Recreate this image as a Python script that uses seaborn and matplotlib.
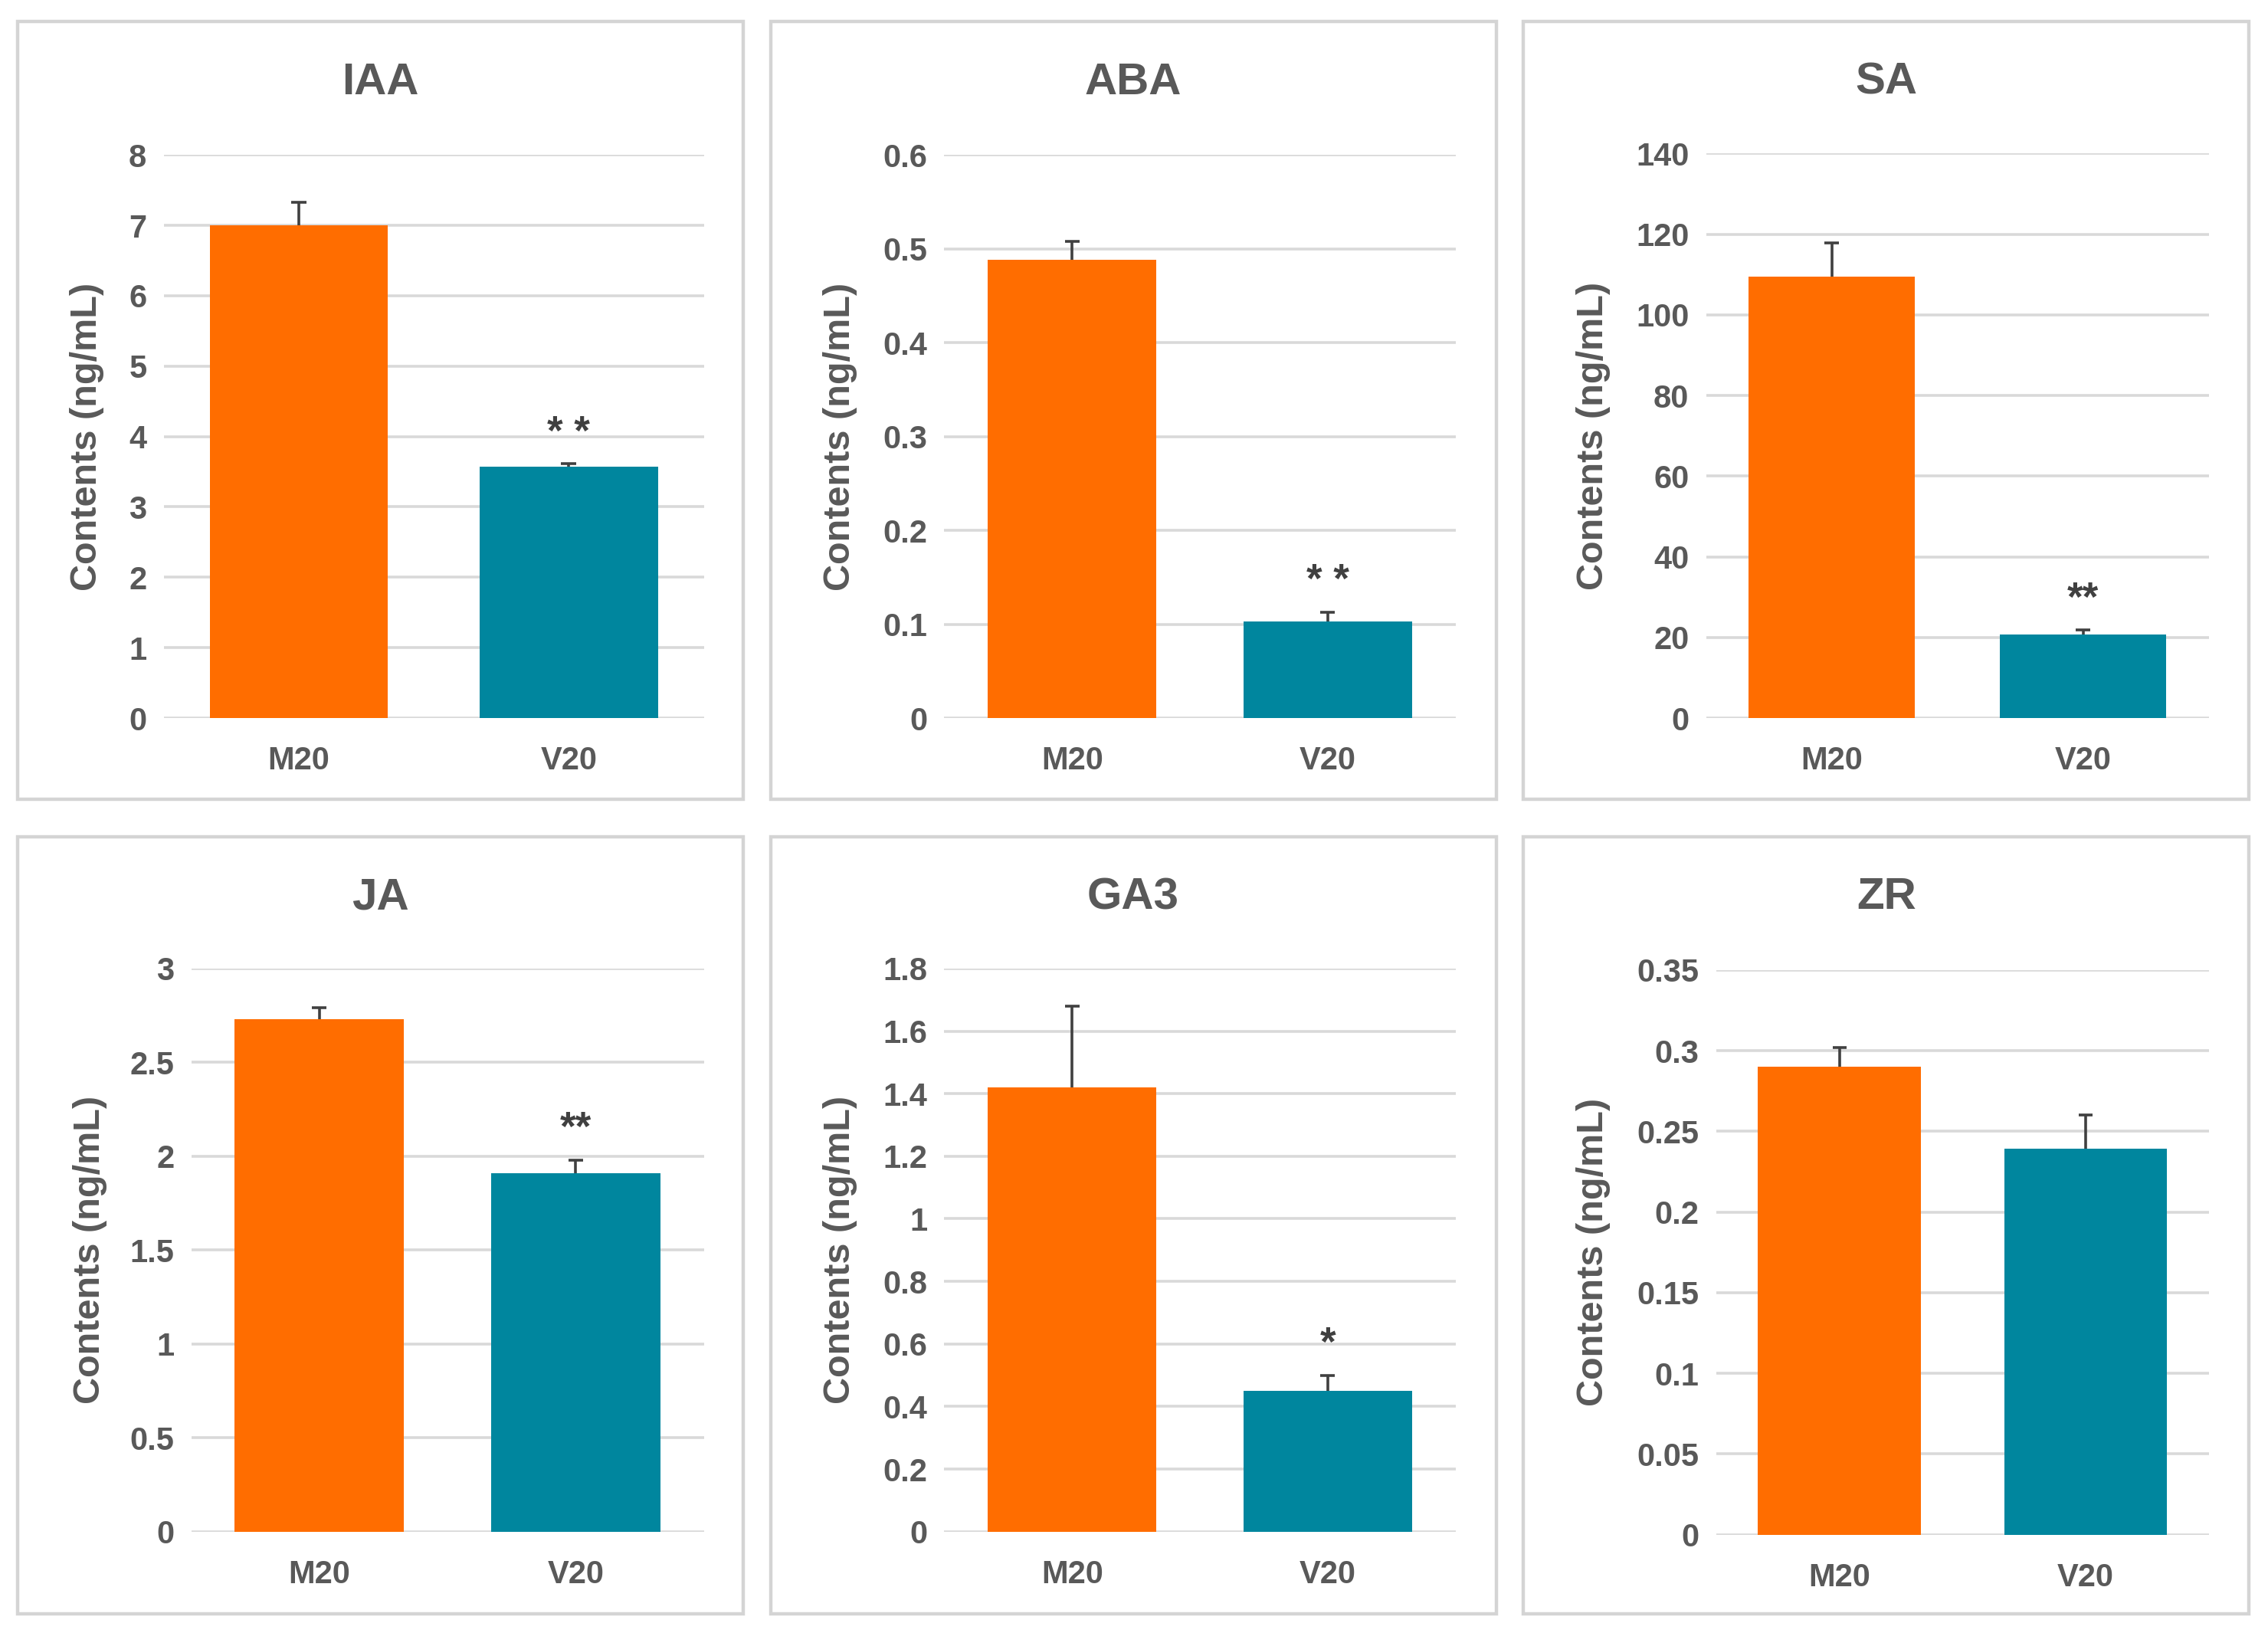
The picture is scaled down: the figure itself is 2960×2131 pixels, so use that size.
import matplotlib.pyplot as plt
import matplotlib.patches as mpatches
from matplotlib.ticker import MultipleLocator, FuncFormatter
import seaborn as sns

# data
hormones = ["IAA", "ABA", "SA", "JA", "GA3", "ZR"]
groups = ["M20", "V20"]
m20_mean = [7.00, 0.488, 109.5, 2.73, 1.42, 0.290]
m20_err = [0.33, 0.020, 8.3, 0.06, 0.26, 0.012]
v20_mean = [3.57, 0.103, 20.8, 1.91, 0.45, 0.239]
v20_err = [0.04, 0.010, 1.0, 0.07, 0.05, 0.021]
y_max = [8, 0.6, 140, 3, 1.8, 0.35]
y_step = [1, 0.1, 20, 0.5, 0.2, 0.05]
signif = ["* *", "* *", "**", "**", "*", ""]

bar_colors = ["#FF6D00", "#00869E"]
text_gray = "#595959"
grid_gray = "#D9D9D9"
err_gray = "#404040"

sns.set_theme(style="white")
plt.rcParams["font.family"] = ["Liberation Sans", "DejaVu Sans"]
plt.rcParams["font.weight"] = "bold"

# layout measured on a 1566 x 1128 grid of the reference
W, H = 1566.0, 1128.0
box_cols = [(12, 513), (532, 1033), (1052, 1553)]
box_rows = [(15, 552), (578, 1115)]
axes_x = [(113, 486), (652, 1005), (1178, 1525), (132, 486), (652, 1005), (1185, 1525)]
axes_y = [(107, 496), (107, 496), (106, 496), (669, 1058), (669, 1058), (670, 1060)]
ylabel_x = [60, 580, 1100, 62, 580, 1100]

fig = plt.figure(figsize=(14.8, 10.655), dpi=200)

for i, name in enumerate(hormones):
    r, c = divmod(i, 3)
    bx0, bx1 = box_cols[c]
    by0, by1 = box_rows[r]
    fig.patches.append(mpatches.Rectangle(
        (bx0 / W, 1 - by1 / H), (bx1 - bx0) / W, (by1 - by0) / H,
        transform=fig.transFigure, fill=False, edgecolor="#D4D4D4", linewidth=1.6))

    x0, x1 = axes_x[i]
    y0, y1 = axes_y[i]
    ax = fig.add_axes([x0 / W, 1 - y1 / H, (x1 - x0) / W, (y1 - y0) / H])

    means = [m20_mean[i], v20_mean[i]]
    errs = [m20_err[i], v20_err[i]]
    sns.barplot(x=groups, y=means, hue=groups, palette=bar_colors, width=0.66,
                saturation=1, errorbar=None, legend=False, ax=ax, zorder=3, linewidth=0)

    # upper error bar only, cap on top
    tops = [m + e for m, e in zip(means, errs)]
    ax.vlines([0, 1], means, tops, color=err_gray, linewidth=1.3, zorder=4)
    ax.hlines(tops, [-0.028, 0.972], [0.028, 1.028], color=err_gray, linewidth=1.3, zorder=4)

    if signif[i]:
        ax.text(1, tops[1] + 0.035 * y_max[i], signif[i], ha="center", va="baseline",
                fontsize=19, fontweight="bold", color=err_gray)

    ax.set_xlim(-0.5, 1.5)
    ax.set_ylim(0, y_max[i])
    ax.yaxis.set_major_locator(MultipleLocator(y_step[i]))
    ax.yaxis.set_major_formatter(FuncFormatter(lambda v, p: f"{v:g}"))
    ax.grid(axis="y", color=grid_gray, linewidth=1.3, zorder=0)
    ax.set_axisbelow(True)
    for s in ax.spines.values():
        s.set_visible(False)
    ax.tick_params(axis="both", length=0, labelsize=15, labelcolor=text_gray)
    ax.tick_params(axis="x", pad=13)
    ax.tick_params(axis="y", pad=8)
    for lab in ax.get_xticklabels() + ax.get_yticklabels():
        lab.set_fontweight("bold")

    ax.set_ylabel("Contents (ng/mL)", fontsize=17.5, fontweight="bold", color=text_gray)
    ax.yaxis.label.set_verticalalignment("center")
    ax.yaxis.set_label_coords(ylabel_x[i] / W, 1 - (y0 + y1) / 2 / H, transform=fig.transFigure)
    ax.set_xlabel("")

    fig.text((bx0 + bx1) / 2 / W, 1 - (by0 + 42) / H, name, ha="center", va="center",
             fontsize=21, fontweight="bold", color=text_gray)

fig.savefig("out.png", dpi=200, facecolor="white")
